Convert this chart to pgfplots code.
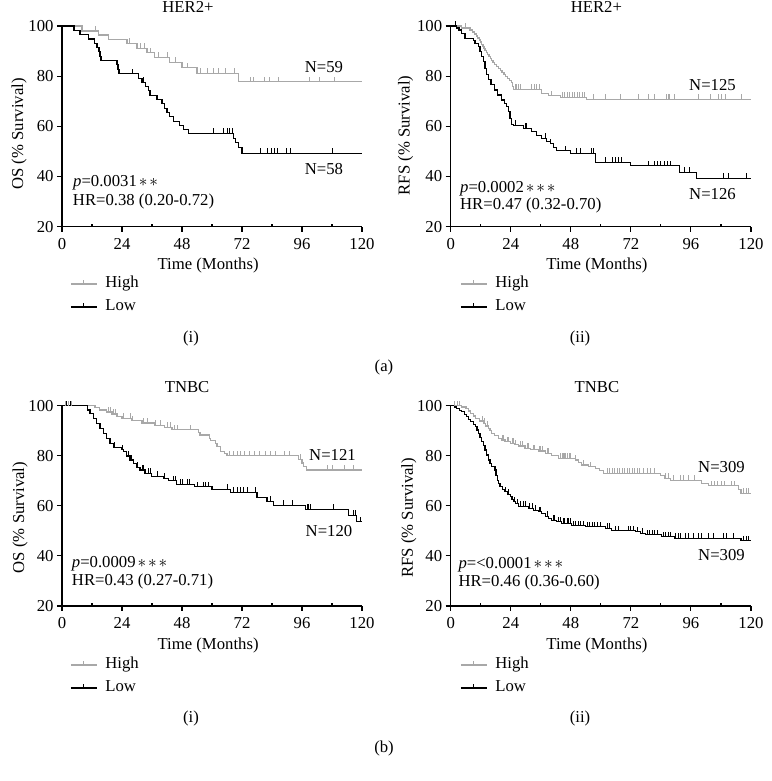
\documentclass[border=0pt]{standalone}
\usepackage{pgfplots}
\pgfplotsset{compat=1.18}
\usepackage{fontspec}
\setmainfont{Liberation Serif}
\definecolor{kmgray}{rgb}{0.66,0.66,0.66}
\pgfdeclareplotmark{cens}{\pgfpathmoveto{\pgfqpoint{0pt}{0pt}}\pgfpathlineto{\pgfqpoint{0pt}{5pt}}\pgfusepathqstroke}
\newcommand{\fs}{\fontsize{16.7}{19.5}\selectfont}
\newcommand{\st}{\mkern2mu{\ast}}
\pgfplotsset{km/.style={
  scale only axis, width=300pt, height=200.7pt,
  xmin=0,xmax=120,ymin=20,ymax=100,
  xtick={0,24,...,120}, minor xtick={12,36,...,108}, ytick={20,40,...,100},
  axis x line*=bottom, axis y line*=left,
  axis line style={line width=1.1pt,black},
  tick align=outside, major tick length=5pt, minor tick length=3pt,
  tick style={line width=1.1pt,black},
  every minor tick/.append style={yshift=3pt},
  /pgf/number format/assume math mode=true,
  tick label style={font=\fs},
  xticklabel style={yshift=-3pt},
  label style={font=\fs}, title style={font=\fs},
  clip=false,
  xlabel={Time (Months)},
  xlabel style={at={(axis description cs:0.487,-0.191)},anchor=center},
  legend cell align=left,
  legend image code/.code={\draw[#1,mark=none] (0pt,0pt) -- (26pt,0pt); \draw[#1,mark=none] (13pt,0pt) -- (13pt,4pt);},
  legend style={at={(axis description cs:0.027,-0.343)},anchor=west,draw=none,fill=none,inner sep=0pt,font=\fs,
     nodes={inner sep=0pt,text height=11pt,text depth=3.5pt},row sep=8.5pt,column sep=8pt},
  hi/.style={const plot,color=kmgray,line width=1.1pt},
  lo/.style={const plot,color=black,line width=1.1pt},
  hic/.style={only marks,mark=cens,color=kmgray,line width=0.9pt,forget plot},
  loc/.style={only marks,mark=cens,color=black,line width=0.9pt,forget plot},
}}
\begin{document}
\begin{tikzpicture}[x=1pt,y=1pt,font=\fs]
\path[use as bounding box] (0,0) rectangle (771,781);

%% (a)(i)
\begin{axis}[km, at={(62pt,554.3pt)}, anchor=south west,
  title={HER2+}, title style={at={(axis description cs:0.42,1.065)},anchor=center},
  ylabel={OS (\% Survival)}, ylabel style={at={(axis description cs:-0.143,0.462)},anchor=center}]
\addplot[hi] coordinates {(0,100)(8,98.0)(14.5,96.4)(18.5,94.7)(26,93.1)(30,91.1)(34,89.4)(37,87.5)(43,85.6)(48,83.4)(54,81.1)(70.5,77.8)(120,77.8)};
\addlegendentry{High}
\addplot[lo] coordinates {(0,100)(4.8,98.3)(7.2,96.6)(10.5,94.8)(13,93.1)(14,91.4)(14.8,89.7)(15.2,87.9)(15.6,86.2)(22,84.5)(22.4,82.8)(22.8,80.9)(30.5,79.2)(32,77.6)(33.5,75.9)(34.5,74.2)(35.2,72.4)(38,70.7)(40,69.0)(41,67.2)(42,65.5)(43,63.8)(44.5,62.0)(47,60.3)(48.5,58.9)(50.5,57.2)(68.5,55.3)(69.5,53.5)(70.5,51.6)(72,49.2)(120,49.2)};
\addlegendentry{Low}
\addplot[hic] coordinates {(13.2,98.0)(26.8,93.1)(31.5,91.1)(33,91.1)(35.5,89.4)(38.5,87.5)(42,87.5)(45.5,85.6)(50,83.4)(55.5,81.1)(58,81.1)(60.5,81.1)(62.5,81.1)(65.5,81.1)(69,81.1)(75.5,77.8)(76.5,77.8)(81,77.8)(83,77.8)(86.5,77.8)(99,77.8)(103,77.8)(109,77.8)};
\addplot[loc] coordinates {(28,80.9)(32.6,77.6)(60.5,57.2)(64.5,57.2)(66,57.2)(67,57.2)(68,57.2)(79.3,49.2)(82,49.2)(83.6,49.2)(85,49.2)(86,49.2)(89.8,49.2)(91.4,49.2)(108,49.2)};
\node[anchor=center] at (axis cs:104.8,83.7) {N=59};
\node[anchor=center] at (axis cs:104.8,43) {N=58};
\node[anchor=west,inner sep=0pt] at (axis cs:4.4,37.4) {\textit{p}=0.0031$\st\st$};
\node[anchor=west,inner sep=0pt] at (axis cs:4.3,30.0) {HR=0.38 (0.20-0.72)};
\end{axis}

%% (a)(ii)
\begin{axis}[km, at={(450.7pt,554.3pt)}, anchor=south west, width=300.3pt,
  title={HER2+}, title style={at={(axis description cs:0.485,1.065)},anchor=center},
  ylabel={RFS (\% Survival)}, ylabel style={at={(axis description cs:-0.15,0.455)},anchor=center},
  legend style={at={(axis description cs:0.031,-0.343)}}]
\addplot[hi] coordinates {(0,100)(4.4,99.2)(7.7,98.4)(8.7,97.6)(9.5,96.8)(10.2,96.0)(10.8,95.2)(11.4,94.4)(11.9,93.6)(12.4,92.8)(12.9,92.0)(13.3,91.2)(13.7,90.4)(14.3,89.6)(14.8,88.8)(15.3,88.0)(15.8,87.2)(16.3,86.4)(16.9,85.6)(17.5,84.8)(18.2,84.0)(19,83.2)(19.8,82.4)(20.5,81.6)(21.3,80.8)(22,80.0)(22.8,79.2)(23.5,78.4)(24.3,77.6)(24.8,76.0)(25.2,74.8)(36.4,73.2)(39,72.2)(43.7,71.6)(54.3,70.8)(120,70.8)};
\addlegendentry{High}
\addplot[lo] coordinates {(0,100)(2.4,99.2)(3.3,98.4)(4.4,97.1)(5.7,95.1)(9.1,94.2)(9.7,93.1)(11,91.8)(11.7,89.8)(12.4,87.8)(13.1,85.8)(13.7,83.1)(14.4,80.5)(15,78.5)(16.1,76.5)(17.4,74.5)(18.8,72.5)(20.4,70.5)(21.4,69.2)(22.4,67.8)(23,65.8)(23.7,63.2)(24.4,60.9)(25,60.5)(29,59.2)(32.4,57.9)(34.4,56.5)(36.4,55.2)(38.4,53.9)(39.7,53.0)(41,51.6)(42.4,50.3)(47.8,49.2)(58,45.6)(71.9,44.3)(91.6,41.7)(98.3,39.3)(120,39.3)};
\addlegendentry{Low}
\addplot[hic] coordinates {(2,100)(6,99.2)(25.7,74.8)(26.4,74.8)(27,74.8)(27.7,74.8)(32.4,74.8)(33.3,74.8)(34.3,74.8)(35.3,74.8)(40.4,72.2)(44.5,71.6)(45.5,71.6)(46.5,71.6)(47.5,71.6)(48.5,71.6)(49.5,71.6)(50.5,71.6)(51.5,71.6)(52.5,71.6)(53.5,71.6)(57,70.8)(61.7,70.8)(67.7,70.8)(75,70.8)(79,70.8)(81.4,70.8)(86.3,70.8)(87,70.8)(87.6,70.8)(89.6,70.8)(99,70.8)(103.6,70.8)(107,70.8)(108,70.8)(109.6,70.8)(116,70.8)};
\addplot[loc] coordinates {(2,100)(26,60.5)(29.7,59.2)(30.4,59.2)(37.7,55.2)(39.7,53.0)(45.7,50.3)(50.3,49.2)(51.7,49.2)(56.3,49.2)(57,49.2)(61.7,45.6)(64.5,45.6)(65.8,45.6)(67,45.6)(68.3,45.6)(79,44.3)(81.4,44.3)(82.7,44.3)(84,44.3)(85.4,44.3)(86.7,44.3)(88,44.3)(93.6,41.7)(95.6,41.7)(109,39.3)(111,39.3)(118,39.3)};
\node[anchor=center] at (axis cs:104.6,76.3) {N=125};
\node[anchor=center] at (axis cs:104.6,33.2) {N=126};
\node[anchor=west,inner sep=0pt] at (axis cs:3.7,35.2) {\textit{p}=0.0002$\st\st\st$};
\node[anchor=west,inner sep=0pt] at (axis cs:3.7,28.3) {HR=0.47 (0.32-0.70)};
\end{axis}

%% (b)(i)
\begin{axis}[km, at={(62pt,175pt)}, anchor=south west, height=200.3pt,
  title={TNBC}, title style={at={(axis description cs:0.417,1.063)},anchor=center},
  ylabel={OS (\% Survival)}, ylabel style={at={(axis description cs:-0.14,0.442)},anchor=center},
  xlabel style={at={(axis description cs:0.487,-0.195)}},
  legend style={at={(axis description cs:0.027,-0.352)}}]
\addplot[hi] coordinates {(0,100)(13.2,99.2)(15,98.3)(17.9,97.5)(20,96.7)(22,95.8)(24,94.9)(28,94.0)(32,93.1)(37,92.2)(41,91.3)(44,90.4)(54.6,89.4)(55.2,88.3)(59,87.0)(59.5,86.0)(61.5,84.8)(62,83.6)(63.3,81.8)(65,80.9)(66,80.0)(94.7,78.6)(96,77.1)(96.5,75.7)(97.7,74.3)(120,74.3)};
\addlegendentry{High}
\addplot[lo] coordinates {(0,100)(10.1,98.3)(11.2,96.9)(12.6,94.9)(13.9,92.9)(15.2,90.9)(16.6,89.0)(17.9,87.0)(19.2,85.0)(20.6,83.4)(23.9,82.5)(24.6,81.6)(25.9,79.9)(27.2,78.3)(28.6,77.0)(29.9,75.4)(31.2,74.3)(33.2,73.0)(35.9,71.9)(40.6,71.0)(42.6,70.0)(45.9,68.7)(53,67.7)(60,66.7)(67.3,65.5)(78,63.4)(82,61.9)(84.6,60.3)(97.3,58.6)(114.7,56.3)(117.8,53.7)(120,53.7)};
\addlegendentry{Low}
\addplot[hic] coordinates {(1.2,100)(2.5,100)(3.9,100)(18.5,97.5)(19.2,97.5)(20.5,96.7)(21.2,96.7)(24.5,94.9)(27.2,94.9)(28.3,94.0)(32.6,93.1)(34,93.1)(37.5,92.2)(39.2,92.2)(42,91.3)(43.3,91.3)(45,90.4)(46,90.4)(51.3,90.4)(67,80.0)(68.5,80.0)(70,80.0)(71.5,80.0)(73,80.0)(75,80.0)(77,80.0)(79,80.0)(81.5,80.0)(83.5,80.0)(85.5,80.0)(89,80.0)(91,80.0)(95.5,78.6)(106,74.3)(108,74.3)(113,74.3)(116.7,74.3)};
\addplot[loc] coordinates {(1.9,100)(3.2,100)(20.8,83.4)(24,82.5)(26.6,79.9)(27.9,78.3)(30,75.4)(32,74.3)(32.6,74.3)(34.6,73.0)(35.2,73.0)(38,71.9)(40.8,71.0)(44.6,70.0)(45.3,70.0)(47.3,68.7)(48.3,68.7)(50,68.7)(50.9,68.7)(54,67.7)(56.5,67.7)(57.5,67.7)(58.6,67.7)(66,66.7)(68.6,65.5)(70,65.5)(71.3,65.5)(72.6,65.5)(74,65.5)(77.3,65.5)(83.3,61.9)(88.6,60.3)(92,60.3)(98,58.6)(98.6,58.6)(99.3,58.6)(108.7,58.6)(116.7,56.3)(117.4,56.3)(119.4,53.7)};
\node[anchor=center] at (axis cs:108.2,80.3) {N=121};
\node[anchor=center] at (axis cs:106.8,49.8) {N=120};
\node[anchor=west,inner sep=0pt] at (axis cs:3.9,37.0) {\textit{p}=0.0009$\st\st\st$};
\node[anchor=west,inner sep=0pt] at (axis cs:3.9,29.8) {HR=0.43 (0.27-0.71)};
\end{axis}

%% (b)(ii)
\begin{axis}[km, at={(450.7pt,175pt)}, anchor=south west, width=300.3pt, height=200.3pt,
  title={TNBC}, title style={at={(axis description cs:0.487,1.063)},anchor=center},
  ylabel={RFS (\% Survival)}, ylabel style={at={(axis description cs:-0.139,0.44)},anchor=center},
  xlabel style={at={(axis description cs:0.487,-0.195)}},
  legend style={at={(axis description cs:0.031,-0.352)}}]
\addplot[hi] coordinates {(0,100)(4.4,99.5)(6.1,98.9)(7,97.9)(8,96.9)(9,95.9)(10,94.9)(11.5,93.9)(13.1,92.9)(14,91.9)(15,90.9)(15.7,90.0)(16.4,89.0)(17.5,88.0)(19,87.0)(20.3,86.3)(21.7,85.6)(24,85.0)(25.5,84.4)(27,83.9)(29.7,83.0)(32,82.5)(35,81.9)(38,81.0)(40.4,80.0)(43,79.0)(49.7,78.3)(51,77.3)(52.3,76.3)(55,75.6)(58,75.0)(59.5,74.0)(61,73.0)(84,72.2)(85.6,71.0)(88,70.3)(100.3,69.0)(103,68.0)(114.9,66.5)(116,65.0)(120,65.0)};
\addlegendentry{High}
\addplot[lo] coordinates {(0,100)(1.5,99.5)(2.4,98.9)(3.4,98.2)(4.4,97.6)(5.4,96.6)(6.4,95.6)(7.2,94.6)(8,93.6)(9,92.6)(10,91.6)(10.5,90.3)(11,89.0)(11.7,87.3)(12.4,85.6)(13,84.0)(13.7,82.3)(14.3,80.3)(15,78.3)(15.7,77.0)(16.4,75.6)(17.7,74.3)(18.1,72.3)(18.6,70.3)(19.2,69.0)(19.7,67.7)(20.7,66.7)(21.7,65.7)(22.8,64.7)(24,63.7)(24.5,62.7)(25,61.7)(26,60.8)(27,59.9)(31,59.0)(33,58.3)(35,57.7)(36.3,56.8)(37.7,55.9)(39,55.1)(40.4,54.3)(42.4,53.6)(44.4,53.0)(48.3,52.1)(53.7,51.7)(61.7,51.0)(64.3,50.1)(73.7,49.7)(75.7,49.0)(77.7,48.4)(84.3,47.7)(89.6,47.0)(115,47.0)(116,46.1)(120,46.1)};
\addlegendentry{Low}
\addplot[hic] coordinates {(1.5,100)(2.5,100)(3.5,100)(12.5,93.9)(13.5,92.9)(14.5,91.9)(20.5,86.3)(21,86.3)(22.5,85.6)(23,85.6)(24.5,85.0)(25,85.0)(26,84.4)(28,83.9)(28.5,83.9)(30.5,83.0)(31,83.0)(33,82.5)(33.5,82.5)(35.5,81.9)(36,81.9)(36.5,81.9)(38.5,81.0)(39,81.0)(44,79.0)(44.5,79.0)(45,79.0)(45.5,79.0)(46,79.0)(46.5,79.0)(47.5,79.0)(48,79.0)(50,78.3)(53,76.3)(56,75.6)(62.5,73.0)(63.5,73.0)(64.5,73.0)(65.5,73.0)(66.5,73.0)(67.5,73.0)(68.5,73.0)(69.5,73.0)(70.5,73.0)(71.5,73.0)(72.5,73.0)(73.5,73.0)(74.5,73.0)(75.5,73.0)(77,73.0)(78.5,73.0)(80,73.0)(81.5,73.0)(86,71.0)(87,71.0)(89,70.3)(92,70.3)(93,70.3)(95,70.3)(97.5,70.3)(104,68.0)(105.5,68.0)(106.5,68.0)(108,68.0)(109.5,68.0)(112,68.0)(113.5,68.0)(117,65.0)(118,65.0)(119,65.0)};
\addplot[loc] coordinates {(22,65.7)(23,64.7)(25.5,61.7)(26.5,60.8)(28,59.9)(29,59.9)(30,59.9)(31.5,59.0)(32.5,59.0)(34,58.3)(35.5,57.7)(36,57.7)(38.5,55.9)(41,54.3)(41.5,54.3)(43,53.6)(44,53.6)(45,53.0)(45.5,53.0)(46.5,53.0)(47,53.0)(48,53.0)(49,52.1)(50,52.1)(51,52.1)(52,52.1)(53,52.1)(54.5,51.7)(55.5,51.7)(56.5,51.7)(57.5,51.7)(58.5,51.7)(60,51.7)(62.5,51.0)(63.5,51.0)(66,50.1)(67,50.1)(71,50.1)(72,50.1)(73,50.1)(74.5,49.7)(76.5,49.0)(78.5,48.4)(79.5,48.4)(80.5,48.4)(81.5,48.4)(82.5,48.4)(85,47.7)(86,47.7)(87,47.7)(88,47.7)(90,47.0)(91,47.0)(92,47.0)(94,47.0)(95,47.0)(97,47.0)(99,47.0)(100,47.0)(103,47.0)(105,47.0)(109,47.0)(110,47.0)(113,47.0)(117,46.1)(118,46.1)(119,46.1)};
\node[anchor=center] at (axis cs:108.2,75.7) {N=309};
\node[anchor=center] at (axis cs:108.2,40.4) {N=309};
\node[anchor=west,inner sep=0pt] at (axis cs:3.05,36.4) {\textit{p}=<0.0001$\st\st\st$};
\node[anchor=west,inner sep=0pt] at (axis cs:3.05,29.2) {HR=0.46 (0.36-0.60)};
\end{axis}

\node at (191,443) {(i)};
\node at (580,443) {(ii)};
\node at (384,414) {(a)};
\node at (191,63) {(i)};
\node at (580,63) {(ii)};
\node at (384,33) {(b)};
\end{tikzpicture}
\end{document}
